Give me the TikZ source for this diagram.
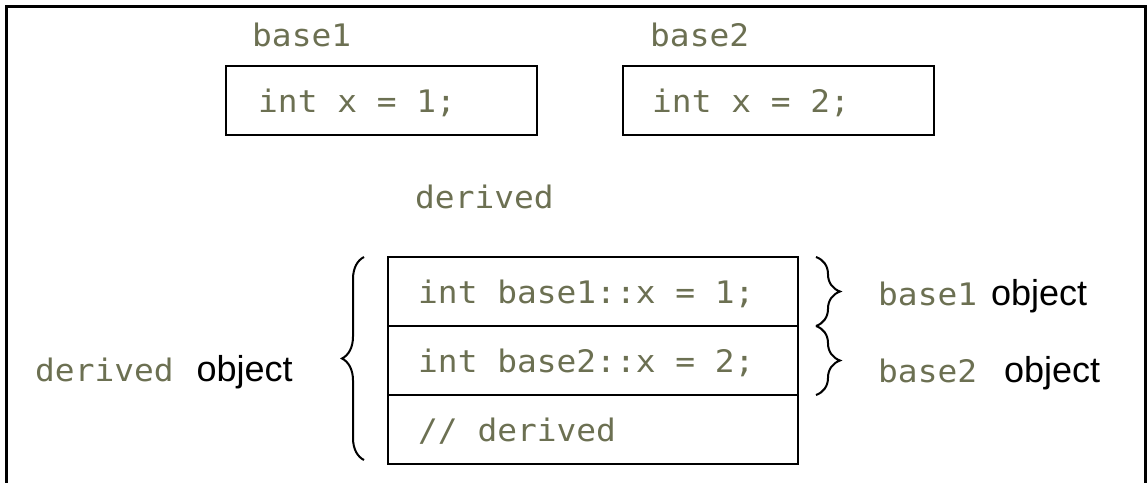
\documentclass[tikz,border=0pt]{standalone}
\usepackage{fontspec}
\setmainfont{Liberation Sans}
\newfontfamily\codefont[FakeStretch=1.06]{DejaVu Sans Mono}
\usetikzlibrary{decorations.pathreplacing}
\definecolor{codecol}{RGB}{108,112,82}
\newcommand\codesize{\fontsize{31}{36}\selectfont}

\begin{document}
\begin{tikzpicture}[x=1pt,y=-1pt,
  code/.style={font=\codefont\codesize, text=codecol,
    inner sep=0pt, text height=0.75em, text depth=0.2em, anchor=west, yshift=-9pt},
  label/.style={font=\fontsize{36}{42}\selectfont, inner sep=0pt,
    text height=0.75em, text depth=0.2em, anchor=west, yshift=-9pt},
  cell/.style={draw, line width=2.4pt, inner sep=0pt, outer sep=0pt,
    anchor=north west, minimum width=#1, minimum height=69pt},
  curly/.style={decorate, line width=2pt,
    decoration={brace, amplitude=#1}},
  frame/.style={line width=3pt}
]
\useasboundingbox (0,0) rectangle (1147,482);

% outer frame (open at the bottom)
\draw[frame] (6,490) -- (6,6) -- (1145,6) -- (1145,490);

% the two base classes
\node[code] (b1l) at (252,35) {base1};
\node[cell=311pt] (b1) at (226,66) {};
\node[code] (b1t) at ([xshift=32pt]b1.west) {int x = 1;};

\node[code] (b2l) at (650,35) {base2};
\node[cell=311pt] (b2) at (623,66) {};
\node[code] (b2t) at ([xshift=29pt]b2.west) {int x = 2;};

% layout of the derived object
\node[code] (dl) at (415,197) {derived};
\node[cell=410pt] (r1) at (388,257) {};
\node[cell=410pt] (r2) at (r1.south west) {};
\node[cell=410pt] (r3) at (r2.south west) {};
\node[code] (r1t) at ([xshift=30pt]r1.west) {int base1::x = 1;};
\node[code] (r2t) at ([xshift=30pt]r2.west) {int base2::x = 2;};
\node[code] (r3t) at ([xshift=30pt]r3.west) {// derived};

% braces
\draw[curly=22pt] ([xshift=-24pt,yshift=4pt]r3.south west) -- ([xshift=-24pt]r1.north west);
\draw[curly=24pt] ([xshift=18pt]r1.north east) -- ([xshift=18pt]r1.south east);
\draw[curly=24pt] ([xshift=18pt]r2.north east) -- ([xshift=18pt]r2.south east);

% captions
\node[label] (dobj) at (35,370) {{\codefont\codesize\color{codecol}derived}\hspace{23pt}object};
\node[label] (b1obj) at (878,294) {{\codefont\codesize\color{codecol}base1}\hspace{14pt}object};
\node[label] (b2obj) at (878,371) {{\codefont\codesize\color{codecol}base2}\hspace{27pt}object};
\end{tikzpicture}
\end{document}
